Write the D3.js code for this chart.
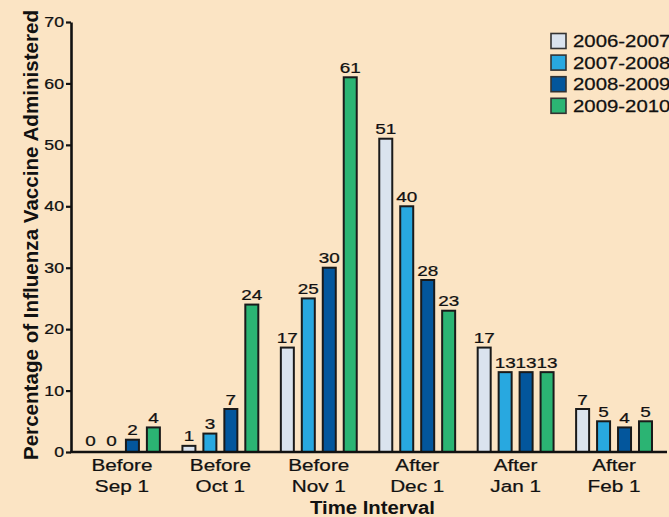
<!DOCTYPE html>
<html>
<head>
<meta charset="utf-8">
<script src="https://cdn.jsdelivr.net/npm/d3@7"></script>
<style>
  html, body { margin: 0; padding: 0; background: #fbe4c4; }
  svg { display: block; }
  text { font-family: "Liberation Sans", Arial, Helvetica, sans-serif; fill: #111; }
</style>
</head>
<body>
<svg id="chart" width="669" height="517"></svg>
<script>
// ---- Data ----
const categoriesLine1 = ["Before", "Before", "Before", "After", "After", "After"];
const categoriesLine2 = ["Sep 1", "Oct 1", "Nov 1", "Dec 1", "Jan 1", "Feb 1"];
const seriesNames = ["2006-2007", "2007-2008", "2008-2009", "2009-2010"];
const values2006_2007 = [0, 1, 17, 51, 17, 7];
const values2007_2008 = [0, 3, 25, 40, 13, 5];
const values2008_2009 = [2, 7, 30, 28, 13, 4];
const values2009_2010 = [4, 24, 61, 23, 13, 5];
const yTicks = [0, 10, 20, 30, 40, 50, 60, 70];
const seriesColors = ["#dae3ee", "#28a8e0", "#03569c", "#2bb473"];

const seriesValues = [values2006_2007, values2007_2008, values2008_2009, values2009_2010];
const cats = categoriesLine2.map((d, i) => i);

const svg = d3.select("#chart");
const SX = 1.22; // horizontal glyph stretch to mimic original typography

const x0 = d3.scaleBand().domain(cats).range([72, 664]).paddingInner(0.229).paddingOuter(0.122);
const x1 = d3.scaleBand().domain(seriesNames).range([0, x0.bandwidth()]).paddingInner(0.38).paddingOuter(0);
const y = d3.scaleLinear().domain([0, 70]).range([452, 22]);
const color = d3.scaleOrdinal().domain(seriesNames).range(seriesColors);

// ---- Bars ----
const rows = [];
cats.forEach(ci => seriesNames.forEach((s, si) => rows.push({ ci, s, v: seriesValues[si][ci] })));

const g = svg.append("g");
g.selectAll("rect.bar").data(rows.filter(d => d.v > 0)).join("rect")
  .attr("class", "bar")
  .attr("x", d => x0(d.ci) + x1(d.s))
  .attr("y", d => y(d.v))
  .attr("width", x1.bandwidth())
  .attr("height", d => y(0) - y(d.v))
  .attr("fill", d => color(d.s))
  .attr("stroke", "#1a1a1a")
  .attr("stroke-width", 2);

// value labels
g.selectAll("text.val").data(rows).join("text")
  .attr("class", "val")
  .attr("text-anchor", "middle")
  .attr("font-size", "15.5px")
  .attr("stroke", "#111").attr("stroke-width", 0.25)
  .attr("transform", d => `translate(${x0(d.ci) + x1(d.s) + x1.bandwidth() / 2},${y(d.v) - (d.v > 0 ? 4.5 : 6)}) scale(${SX},1)`)
  .text(d => d.v);

// ---- Y axis ----
const yAxis = d3.axisLeft(y).tickValues(yTicks).tickSize(5).tickSizeOuter(0).tickPadding(2);
const ya = svg.append("g").attr("transform", "translate(71,0)").call(yAxis);
ya.select(".domain").attr("stroke", "#111").attr("stroke-width", 2.6);
ya.selectAll(".tick line").attr("stroke", "#111").attr("stroke-width", 2.2);
ya.selectAll(".tick text")
  .attr("font-size", "14.5px")
  .attr("font-family", "Liberation Sans, Arial, sans-serif")
  .attr("fill", "#111")
  .attr("stroke", "#111").attr("stroke-width", 0.25)
  .attr("x", -7 / SX)
  .attr("transform", `scale(${SX},1)`);

// ---- X axis baseline ----
svg.append("line")
  .attr("x1", 70).attr("x2", 667)
  .attr("y1", y(0)).attr("y2", y(0))
  .attr("stroke", "#111").attr("stroke-width", 2.4);

// category labels
const xl = svg.append("g");
cats.forEach(ci => {
  const cx = x0(ci) + x0.bandwidth() / 2;
  xl.append("text").attr("text-anchor", "middle").attr("font-size", "17px")
    .attr("stroke", "#111").attr("stroke-width", 0.25)
    .attr("transform", `translate(${cx},470.5) scale(${SX},1)`).text(categoriesLine1[ci]);
  xl.append("text").attr("text-anchor", "middle").attr("font-size", "17px")
    .attr("stroke", "#111").attr("stroke-width", 0.25)
    .attr("transform", `translate(${cx},491.5) scale(${SX},1)`).text(categoriesLine2[ci]);
});

// axis titles
svg.append("text").attr("text-anchor", "middle").attr("font-size", "18px").attr("font-weight", "bold")
  .attr("transform", `translate(372.5,514) scale(1.13,1)`).text("Time Interval");

svg.append("text").attr("text-anchor", "middle").attr("font-size", "20.6px").attr("font-weight", "bold")
  .attr("transform", "translate(37.5,235) rotate(-90)").text("Percentage of Influenza Vaccine Administered");

// ---- Legend ----
const lg = svg.append("g");
seriesNames.forEach((s, i) => {
  const yy = 33.5 + i * 21.6;
  lg.append("rect").attr("x", 551).attr("y", yy).attr("width", 15).attr("height", 15)
    .attr("fill", color(s)).attr("stroke", "#333").attr("stroke-width", 1.6);
  lg.append("text").attr("font-size", "16.3px")
    .attr("stroke", "#111").attr("stroke-width", 0.25)
    .attr("transform", `translate(573,${yy + 13.5}) scale(1.25,1)`).text(s);
});
</script>
</body>
</html>
